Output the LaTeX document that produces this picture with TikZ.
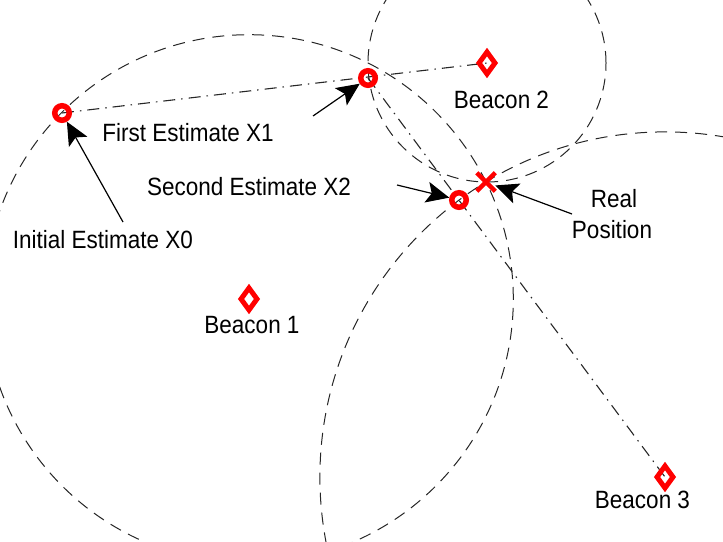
\documentclass[tikz,border=0pt]{standalone}
\usepackage{fontspec}
\setmainfont{Liberation Sans}
\usepackage{graphicx}
\usetikzlibrary{arrows.meta,shapes.geometric,shapes.misc,backgrounds}
\newcommand{\lt}[1]{\scalebox{0.9}[1]{#1}}
\begin{document}
\begin{tikzpicture}[x=1pt,y=-1pt,
  ring/.style={circle, draw=red, line width=5.5pt, minimum size=14.5pt, inner sep=0pt},
  bcn/.style={diamond, draw=red, line width=5pt, minimum width=18pt, minimum height=24pt, inner sep=0pt},
  realpos/.style={cross out, draw=red, line width=4.5pt, minimum size=14pt, inner sep=0pt},
  rangecirc/.style={draw=black!85, line width=1pt, dash pattern=on 12pt off 8pt},
  track/.style={draw=black!85, line width=1.1pt, dash pattern=on 12pt off 6pt on 1.5pt off 6pt},
  pointer/.style={draw=black, line width=1.2pt, -{Stealth[length=23pt,width=21pt,inset=5pt]}},
  lbl/.style={anchor=base, font=\fontsize{25}{30}\selectfont, inner sep=0pt, text=black}]
\useasboundingbox (0,0) rectangle (723,541);
% markers
\node[ring] (x0) at (62,113) {};
\node[ring] (x1) at (368,78) {};
\node[ring] (x2) at (459,200) {};
\node[realpos] (rp) at (486,182) {};
\node[bcn] (b1) at (249,299) {};
\node[bcn] (b2) at (487,63) {};
\node[bcn] (b3) at (665,477) {};
% range circles and tracks
\begin{pgfonlayer}{background}
  \begin{scope}
    \clip (0,0) rectangle (723,541);
    \draw[rangecirc] (b1.center) circle[radius=264.3pt];
    \draw[rangecirc] (b2.center) circle[radius=119pt];
    \draw[rangecirc] (b3.center) circle[radius=345.1pt];
  \end{scope}
  \draw[track] (x0.center) -- (b2.center);
  \draw[track] (x1.center) -- (b3.center);
\end{pgfonlayer}
% labels
\node[lbl] (l0) at (103,248) {\lt{Initial Estimate X0}};
\node[lbl] (l1) at (188,141) {\lt{First Estimate X1}};
\node[lbl] (l2) at (249,195) {\lt{Second Estimate X2}};
\node[lbl] (lb1) at (252,333) {\lt{Beacon 1}};
\node[lbl] (lb2) at (501.5,108) {\lt{Beacon 2}};
\node[lbl] (lb3) at (642.5,508) {\lt{Beacon 3}};
\node[lbl] (lr1) at (614,207) {\lt{Real}};
\node[lbl] (lr2) at (612,238) {\lt{Position}};
% pointers
\coordinate (t0) at (123,222);
\coordinate (t1) at (313,116);
\coordinate (t2) at (397,185);
\coordinate (t3) at (572,214);
\draw[pointer] (t0) -- (x0);
\draw[pointer] (t1) -- (x1);
\draw[pointer] (t2) -- (x2);
\draw[pointer] (t3) -- (rp);
\end{tikzpicture}
\end{document}
